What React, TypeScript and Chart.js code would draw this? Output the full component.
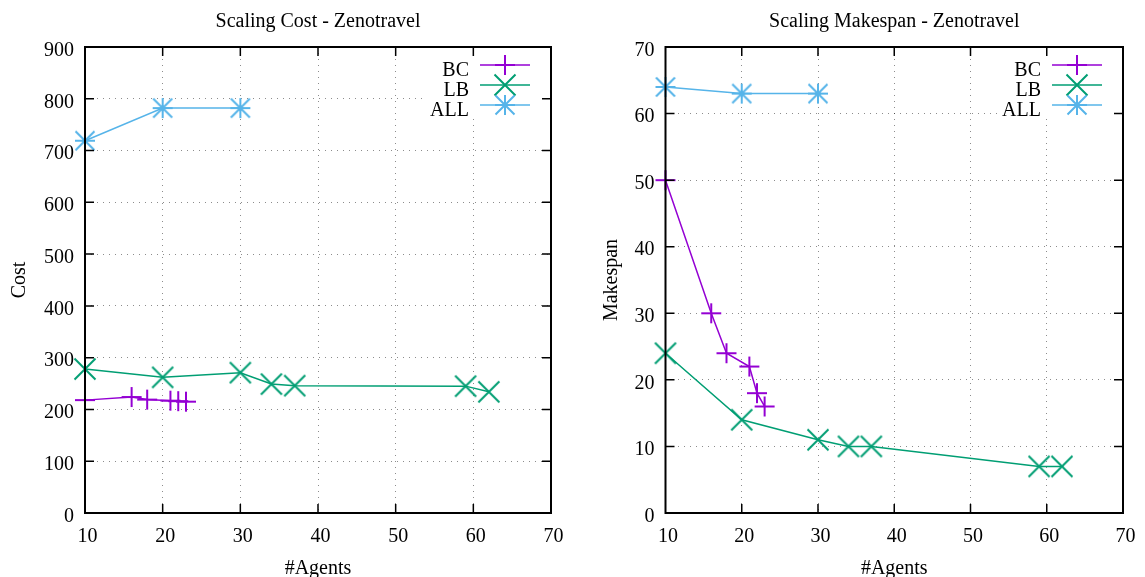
import React, { useEffect, useRef } from 'react';
import { Chart, registerables } from 'chart.js';

Chart.register(...registerables);

const FONT = '"Liberation Serif", "Times New Roman", serif';

// ---- data ----
const agentsBC = [10, 16, 18, 21, 22, 23];
const agentsLB = [10, 20, 30, 34, 37, 59, 62];
const agentsALL = [10, 20, 30];

const costBC = [218, 224, 219, 217, 216, 215];
const costLB = [278, 262, 271, 249, 246, 245, 234];
const costALL = [719, 782, 782];

const makespanBC = [50, 30, 24, 22, 18, 16];
const makespanLB = [24, 14, 11, 10, 10, 7, 7];
const makespanALL = [64, 63, 63];

const seriesNames = ['BC', 'LB', 'ALL'];
const seriesColors = ['#9400D3', '#009E73', '#56B4E9'];
const seriesMarkers = ['plus', 'x', 'star'];

const xMin = 10;
const xMax = 70;
const xStep = 10;

const costTicksMax = 900;
const costTicksStep = 100;
const makespanTicksMax = 70;
const makespanTicksStep = 10;

function makeMarker(kind: string, color: string): HTMLCanvasElement {
  const c = document.createElement('canvas');
  c.width = 26;
  c.height = 26;
  const ctx = c.getContext('2d')!;
  ctx.strokeStyle = color;
  ctx.lineWidth = 2;
  const m = 13;
  ctx.beginPath();
  if (kind === 'plus' || kind === 'star') {
    const r = 10;
    ctx.moveTo(m - r, m);
    ctx.lineTo(m + r, m);
    ctx.moveTo(m, m - r);
    ctx.lineTo(m, m + r);
  }
  if (kind === 'x' || kind === 'star') {
    const r = kind === 'x' ? 10.5 : 9.5;
    ctx.moveTo(m - r, m - r);
    ctx.lineTo(m + r, m + r);
    ctx.moveTo(m - r, m + r);
    ctx.lineTo(m + r, m - r);
  }
  ctx.stroke();
  return c;
}

type PanelProps = {
  title: string;
  yTitle: string;
  values: number[][];
  yMax: number;
  yStep: number;
  width: number;
  left: number;
  yAxisWidth: number;
  padRight: number;
  yTitleX: number;
};

const agentsList = [agentsBC, agentsLB, agentsALL];

function Panel(props: PanelProps) {
  const ref = useRef<HTMLCanvasElement>(null);
  useEffect(() => {
    const canvas = ref.current!;
    const markers = seriesColors.map((c, i) => makeMarker(seriesMarkers[i], c));
    const datasets = seriesNames.map((name, i) => ({
      label: name,
      data: agentsList[i].map((a, j) => ({ x: a, y: props.values[i][j] })),
      borderColor: seriesColors[i],
      backgroundColor: seriesColors[i],
      borderWidth: 1.5,
      pointStyle: markers[i] as any,
      pointRadius: 10,
      tension: 0,
      clip: false as any,
    }));

    const decor = {
      id: 'decor',
      beforeDatasetsDraw(chart: any) {
        const a = chart.chartArea;
        const ctx = chart.ctx;
        ctx.save();
        ctx.fillStyle = '#ffffff';
        ctx.fillRect(a.right - 126, a.top + 9, 124, 61);
        ctx.restore();
      },
      afterDraw(chart: any) {
        const a = chart.chartArea;
        const ctx = chart.ctx;
        ctx.save();
        // border
        ctx.strokeStyle = '#000';
        ctx.lineWidth = 2;
        ctx.strokeRect(a.left, a.top, a.right - a.left, a.bottom - a.top);
        // inward ticks
        ctx.lineWidth = 1.5;
        const tl = 9;
        const xs = chart.scales.x;
        const ys = chart.scales.y;
        ctx.beginPath();
        xs.ticks.forEach((t: any) => {
          if (t.value <= xs.min || t.value >= xs.max) return;
          const p = xs.getPixelForValue(t.value);
          ctx.moveTo(p, a.bottom);
          ctx.lineTo(p, a.bottom - tl);
          ctx.moveTo(p, a.top);
          ctx.lineTo(p, a.top + tl);
        });
        ys.ticks.forEach((t: any) => {
          if (t.value <= ys.min || t.value >= ys.max) return;
          const p = ys.getPixelForValue(t.value);
          ctx.moveTo(a.left, p);
          ctx.lineTo(a.left + tl, p);
          ctx.moveTo(a.right, p);
          ctx.lineTo(a.right - tl, p);
        });
        ctx.stroke();

        // titles
        ctx.fillStyle = '#000';
        ctx.font = `20px ${FONT}`;
        ctx.textAlign = 'center';
        ctx.textBaseline = 'alphabetic';
        const cx = (a.left + a.right) / 2;
        ctx.fillText(props.title, cx, 27);
        ctx.fillText('#Agents', cx, 574);
        ctx.save();
        ctx.translate(props.yTitleX, (a.top + a.bottom) / 2);
        ctx.rotate(-Math.PI / 2);
        ctx.fillText(props.yTitle, 0, 0);
        ctx.restore();

        // legend
        seriesNames.forEach((name, i) => {
          const y = a.top + 18 + 20 * i;
          ctx.fillStyle = '#000';
          ctx.textAlign = 'right';
          ctx.fillText(name, a.right - 82, y + 11);
          ctx.strokeStyle = seriesColors[i];
          ctx.lineWidth = 1.5;
          ctx.beginPath();
          ctx.moveTo(a.right - 71, y);
          ctx.lineTo(a.right - 21, y);
          ctx.stroke();
          ctx.drawImage(markers[i], a.right - 46 - 13, y - 13);
        });
        ctx.restore();
      },
    };

    const tickFont = { family: FONT, size: 20 };
    const chart = new Chart(canvas, {
      type: 'line',
      data: { datasets },
      options: {
        responsive: false,
        animation: false,
        events: [],
        layout: { padding: { left: 0, right: props.padRight, top: 47, bottom: 0 } },
        plugins: {
          legend: { display: false },
          title: { display: false },
          tooltip: { enabled: false },
        },
        scales: {
          x: {
            type: 'linear',
            min: xMin,
            max: xMax,
            ticks: {
              stepSize: xStep,
              font: tickFont,
              color: '#000',
              padding: 12,
              labelOffset: 2.5,
              maxRotation: 0,
            },
            grid: { color: 'rgba(0,0,0,0.45)', lineWidth: 1, drawTicks: false },
            border: { display: false, dash: [1, 5] },
            afterFit: (s: any) => {
              s.height = 64;
            },
          },
          y: {
            type: 'linear',
            min: 0,
            max: props.yMax,
            ticks: {
              stepSize: props.yStep,
              font: tickFont,
              color: '#000',
              padding: 11,
              labelOffset: 3.5,
            },
            grid: { color: 'rgba(0,0,0,0.45)', lineWidth: 1, drawTicks: false },
            border: { display: false, dash: [1, 5] },
            afterFit: (s: any) => {
              s.width = props.yAxisWidth;
            },
          },
        },
      },
      plugins: [decor],
    } as any);
    return () => chart.destroy();
  }, []);
  return (
    <canvas
      ref={ref}
      width={props.width}
      height={577}
      style={{ position: 'absolute', left: props.left, top: 0, width: props.width, height: 577 }}
    />
  );
}

export default function App() {
  return (
    <div
      style={{
        position: 'fixed',
        left: 0,
        top: 0,
        width: 1145,
        height: 577,
        background: '#fff',
        overflow: 'hidden',
      }}
    >
      <Panel
        title="Scaling Cost - Zenotravel"
        yTitle="Cost"
        values={[costBC, costLB, costALL]}
        yMax={costTicksMax}
        yStep={costTicksStep}
        width={573}
        left={0}
        yAxisWidth={85}
        padRight={21.2}
        yTitleX={24.5}
      />
      <Panel
        title="Scaling Makespan - Zenotravel"
        yTitle="Makespan"
        values={[makespanBC, makespanLB, makespanALL]}
        yMax={makespanTicksMax}
        yStep={makespanTicksStep}
        width={572}
        left={573}
        yAxisWidth={92.5}
        padRight={13.3}
        yTitleX={44.3}
      />
    </div>
  );
}
